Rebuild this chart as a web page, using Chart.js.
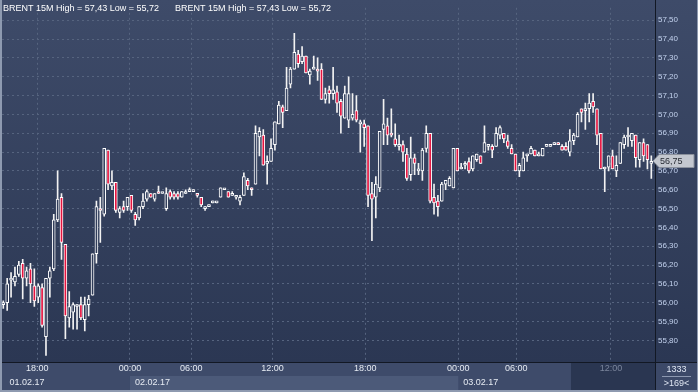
<!DOCTYPE html>
<html>
<head>
<meta charset="utf-8">
<script src="https://cdn.jsdelivr.net/npm/chart.js@4.4.1/dist/chart.umd.min.js"></script>
<style>
html, body { margin: 0; padding: 0; background: #2f3c58; }
#graph { display: block; }
</style>
</head>
<body>
<canvas id="graph" width="698" height="392"></canvas>
<script>
let ctx = document.getElementById("graph").getContext('2d');

const symbol = 'BRENT';
const period = '15M';

// one entry per 15 minute candle
const opens = [
  55.99,56.00,56.12,56.11,56.15,56.21,56.13,56.18,56.09,56.03,
  56.08,55.82,56.13,56.18,56.44,56.56,56.31,55.92,55.95,55.98,
  55.99,55.91,55.99,56.04,56.26,56.50,56.47,56.81,56.62,56.64,
  56.48,56.51,56.51,56.57,56.47,56.45,56.51,56.55,56.58,56.55,
  56.59,56.58,56.50,56.59,56.58,56.58,56.56,56.58,56.59,56.59,
  56.58,56.56,56.50,56.51,56.53,56.53,56.56,56.60,56.59,56.57,
  56.56,56.54,56.57,56.65,56.61,56.63,56.88,56.89,56.74,56.75,
  56.84,56.95,57.04,57.02,57.16,57.24,57.32,57.28,57.31,57.21,
  57.24,57.24,57.24,57.08,57.13,57.11,57.12,57.07,56.98,56.97,
  56.98,57.02,56.95,56.95,56.94,56.58,56.56,56.61,56.92,56.94,
  56.90,56.87,56.83,56.84,56.79,56.68,56.77,56.70,56.70,56.82,
  56.90,56.56,56.54,56.54,56.63,56.62,56.61,56.82,56.71,56.73,
  56.75,56.71,56.76,56.78,56.80,56.83,56.83,56.83,56.89,56.90,
  56.86,56.82,56.79,56.70,56.70,56.78,56.79,56.81,56.78,56.78,
  56.83,56.83,56.84,56.85,56.83,56.83,56.80,56.86,56.88,57.03,
  57.02,57.03,57.07,57.03,56.90,56.71,56.72,56.78,56.70,56.74,
  56.84,56.88,56.86,56.89,56.76,56.85,56.84,56.74
];
const highs = [
  56.01,56.13,56.16,56.19,56.22,56.23,56.19,56.21,56.18,56.10,
  56.10,56.13,56.19,56.47,56.70,56.58,56.31,56.06,56.00,55.99,
  56.03,56.03,56.04,56.26,56.54,56.56,56.82,56.81,56.70,56.64,
  56.51,56.54,56.56,56.57,56.48,56.51,56.58,56.60,56.58,56.58,
  56.62,56.58,56.61,56.60,56.59,56.59,56.59,56.60,56.61,56.60,
  56.58,56.56,56.51,56.52,56.54,56.53,56.61,56.60,56.59,56.59,
  56.56,56.57,56.69,56.66,56.61,56.94,56.93,56.92,56.78,56.87,
  56.96,57.07,57.05,57.25,57.25,57.43,57.34,57.36,57.31,57.24,
  57.31,57.30,57.27,57.14,57.15,57.25,57.15,57.08,57.15,57.20,
  57.11,57.10,56.97,56.97,56.94,56.64,56.67,56.91,57.08,56.98,
  57.03,56.95,56.89,56.86,56.82,56.88,56.79,56.74,56.82,56.94,
  56.90,56.63,56.57,56.64,56.65,56.67,56.82,56.82,56.74,56.75,
  56.77,56.78,56.79,56.78,56.94,56.84,56.84,56.93,56.94,56.90,
  56.89,56.84,56.79,56.74,56.80,56.79,56.83,56.81,56.80,56.82,
  56.83,56.84,56.85,56.85,56.84,56.85,56.92,56.90,57.01,57.03,
  57.06,57.11,57.11,57.03,56.90,56.72,56.78,56.81,56.78,56.85,
  56.89,56.93,56.90,56.89,56.85,56.87,56.84,56.78
];
const lows = [
  55.97,55.96,56.03,56.09,56.14,56.02,56.09,56.00,55.98,56.00,
  55.87,55.72,56.03,56.17,56.43,56.23,55.81,55.87,55.86,55.86,
  55.91,55.85,55.93,56.04,56.21,56.32,56.46,56.60,56.60,56.48,
  56.45,56.48,56.49,56.48,56.41,56.44,56.50,56.54,56.56,56.54,
  56.58,56.58,56.49,56.55,56.55,56.55,56.56,56.58,56.59,56.59,
  56.56,56.51,56.49,56.51,56.53,56.53,56.56,56.60,56.56,56.57,
  56.55,56.52,56.57,56.60,56.57,56.63,56.78,56.73,56.63,56.75,
  56.81,56.95,56.93,57.02,57.14,57.24,57.25,57.27,57.22,57.16,
  57.24,57.18,57.08,57.06,57.06,57.08,57.01,56.90,56.98,56.93,
  56.97,56.96,56.80,56.83,56.51,56.33,56.45,56.59,56.84,56.84,
  56.88,56.83,56.81,56.75,56.65,56.65,56.68,56.68,56.65,56.80,
  56.53,56.47,56.46,56.54,56.60,56.62,56.61,56.70,56.71,56.71,
  56.69,56.70,56.75,56.74,56.80,56.81,56.77,56.83,56.87,56.85,
  56.82,56.79,56.70,56.67,56.70,56.75,56.79,56.78,56.78,56.78,
  56.83,56.83,56.84,56.84,56.81,56.81,56.78,56.84,56.88,56.96,
  56.92,56.96,57.01,56.84,56.71,56.59,56.70,56.71,56.67,56.74,
  56.82,56.83,56.83,56.72,56.72,56.75,56.71,56.66
];
const closes = [
  55.99,56.10,56.13,56.14,56.20,56.13,56.17,56.10,56.01,56.09,
  55.88,56.13,56.17,56.44,56.55,56.32,55.93,55.98,55.99,55.98,
  55.92,55.99,56.02,56.26,56.51,56.49,56.82,56.63,56.64,56.49,
  56.50,56.49,56.56,56.49,56.44,56.51,56.54,56.59,56.56,56.58,
  56.58,56.58,56.58,56.56,56.56,56.56,56.59,56.58,56.60,56.60,
  56.57,56.52,56.51,56.52,56.54,56.53,56.61,56.60,56.56,56.58,
  56.56,56.56,56.67,56.62,56.60,56.90,56.91,56.73,56.75,56.82,
  56.96,57.05,57.01,57.14,57.24,57.33,57.27,57.31,57.22,57.23,
  57.24,57.23,57.08,57.11,57.11,57.13,57.06,56.99,57.11,57.11,
  57.00,56.97,56.96,56.93,56.57,56.55,56.63,56.91,56.95,56.89,
  56.89,56.84,56.84,56.80,56.66,56.77,56.74,56.71,56.81,56.90,
  56.54,56.53,56.51,56.63,56.65,56.66,56.82,56.70,56.72,56.74,
  56.70,56.78,56.79,56.74,56.85,56.84,56.81,56.90,56.93,56.87,
  56.83,56.79,56.70,56.73,56.77,56.78,56.82,56.78,56.78,56.82,
  56.83,56.84,56.84,56.84,56.81,56.81,56.86,56.89,57.00,57.01,
  57.03,57.06,57.04,56.89,56.71,56.71,56.78,56.71,56.73,56.85,
  56.88,56.89,56.90,56.77,56.85,56.78,56.76,56.75
];

const priceTicks = [55.8,55.9,56.0,56.1,56.2,56.3,56.4,56.5,56.6,56.7,56.8,56.9,57.0,57.1,57.2,57.3,57.4,57.5];

// time axis: labels and where they sit, in candle index units
const timeLabels = ['18:00','00:00','06:00','12:00','18:00','00:00','06:00','12:00'];
const timePos = [8.75, 32.65, 48.45, 69.35, 93.3, 117.25, 132.2, 156.6];
const dateLabels = ['01.02.17','02.02.17','03.02.17'];
const datePos = [0.3, 32.65, 117.25];
const shadeFrom = 146.3;

const fmt = (v) => v.toFixed(2).replace('.', ',');

function plotFill(chart) {
    const a = chart.chartArea;
    if (!a) return '#34415e';
    const g = chart.ctx.createLinearGradient(0, 0, 0, a.bottom);
    g.addColorStop(0, '#3e4b69');
    g.addColorStop(1, '#2b3753');
    return g;
}

const frame = {
    id: 'frame',
    beforeDraw(chart) {
        const c = chart.ctx, a = chart.chartArea, W = chart.width, H = chart.height;
        const x = chart.scales.x;
        c.save();
        c.fillStyle = plotFill(chart);
        c.fillRect(0, 0, W, a.bottom);
        c.fillStyle = '#3e4b6a';
        c.fillRect(0, a.bottom, W, H - a.bottom);
        const d0 = x.getPixelForValue(datePos[1]), d1 = x.getPixelForValue(datePos[2]);
        c.fillStyle = '#4c5a79';
        c.fillRect(d0, a.bottom + 14, d1 - d0, 14);
        const s0 = x.getPixelForValue(shadeFrom);
        c.fillStyle = '#2a3651';
        c.fillRect(s0, a.bottom + 1, a.right - s0, 27);
        c.restore();
    },
    afterDraw(chart) {
        const c = chart.ctx, a = chart.chartArea, W = chart.width, H = chart.height;
        const x = chart.scales.x, y = chart.scales.y;
        c.save();

        // header
        const head = symbol + ' ' + period + ' High = ' + fmt(Math.max(...highs)) + ' Low = ' + fmt(Math.min(...lows));
        c.font = '9px "Liberation Sans", Arial, sans-serif';
        c.fillStyle = '#ffffff';
        c.textBaseline = 'middle';
        c.textAlign = 'left';
        c.fillText(head, 3, 9);
        c.fillText(head, 175, 9);

        // time axis
        const s0 = x.getPixelForValue(shadeFrom);
        c.textAlign = 'center';
        timeLabels.forEach((t, i) => {
            const px = x.getPixelForValue(timePos[i]);
            c.fillStyle = px > s0 ? '#7b869d' : '#e6ebf3';
            c.fillText(t, px, a.bottom + 7);
        });
        c.textAlign = 'left';
        c.fillStyle = '#e6ebf3';
        dateLabels.forEach((t, i) => {
            c.fillText(t, x.getPixelForValue(datePos[i]) + 5, a.bottom + 21);
        });

        // separators
        c.strokeStyle = '#121824';
        c.lineWidth = 1;
        c.beginPath();
        c.moveTo(0, a.bottom + 0.5); c.lineTo(W, a.bottom + 0.5);
        c.moveTo(a.right + 0.5, 0); c.lineTo(a.right + 0.5, H);
        c.stroke();

        // bottom right cell
        c.fillStyle = '#3c4968';
        c.fillRect(a.right + 1, a.bottom + 1, W - a.right - 1, H - a.bottom - 1);
        c.fillStyle = '#dfe6f2';
        c.textAlign = 'center';
        const cx = (a.right + W) / 2;
        c.fillText('1333', cx, a.bottom + 8);
        c.fillText('>169<', cx, a.bottom + 22);
        c.strokeStyle = '#8c98b0';
        c.beginPath();
        c.moveTo(a.right + 7, a.bottom + 14.5); c.lineTo(W - 7, a.bottom + 14.5);
        c.stroke();

        // last price marker
        const last = closes[closes.length - 1];
        const py = Math.round(y.getPixelForValue(last));
        c.fillStyle = '#c3c7cf';
        c.strokeStyle = '#8a909c';
        c.beginPath();
        c.moveTo(a.right - 2, py);
        c.lineTo(a.right + 4, py - 6.5);
        c.lineTo(W - 4, py - 6.5);
        c.lineTo(W - 4, py + 6.5);
        c.lineTo(a.right + 4, py + 6.5);
        c.closePath();
        c.fill();
        c.stroke();
        c.fillStyle = '#262a33';
        c.textAlign = 'left';
        c.fillText(fmt(last), a.right + 5, py + 0.5);

        // outer frame
        c.fillStyle = '#8e9ab0';
        c.fillRect(0, 0, 2, H);
        c.fillRect(0, H - 2, W, 2);
        c.fillRect(W - 1, 0, 1, H);
        c.restore();
    }
};

const wickData = opens.map((o, i) => ({x: i, y: [lows[i], highs[i]]}));
const bodyData = opens.map((o, i) => ({x: i, y: [Math.min(o, closes[i]), Math.max(o, closes[i])]}));

new Chart(ctx, {
    type: 'bar',
    data: {
        datasets: [{
            label: 'wick',
            data: wickData,
            barThickness: 1,
            backgroundColor: '#f2f2f2',
            borderWidth: 0,
            grouped: false,
            order: 2
        }, {
            label: 'body',
            data: bodyData,
            barThickness: 3,
            minBarLength: 2,
            borderWidth: 1,
            borderSkipped: false,
            borderColor: '#ffffff',
            backgroundColor: (c) => closes[c.dataIndex] < opens[c.dataIndex] ? '#e5133f' : plotFill(c.chart),
            grouped: false,
            order: 1
        }]
    },
    options: {
        responsive: false,
        devicePixelRatio: 1,
        animation: false,
        layout: { padding: { left: 2, top: 0, right: 0, bottom: 30 } },
        plugins: { legend: { display: false }, tooltip: { enabled: false } },
        scales: {
            x: {
                type: 'linear',
                min: -0.335,
                max: 167.95,
                offset: false,
                afterBuildTicks: (s) => { s.ticks = timePos.map(v => ({value: v})); },
                afterFit: (s) => { s.height = 0; },
                ticks: { display: false },
                grid: { color: '#56647f', drawTicks: false, offset: false },
                border: { display: false, dash: [2, 3] }
            },
            y: {
                position: 'right',
                min: 55.6855,
                max: 57.566,
                afterBuildTicks: (s) => { s.ticks = priceTicks.map(v => ({value: v})); },
                afterFit: (s) => { s.width = 43; },
                ticks: {
                    autoSkip: false,
                    padding: 3,
                    color: '#c3d2ee',
                    font: { family: '"Liberation Sans Narrow", "Liberation Sans", Arial, sans-serif', size: 8 },
                    callback: (v) => fmt(v)
                },
                grid: { color: '#56647f', drawTicks: false },
                border: { display: false, dash: [2, 3] }
            }
        }
    },
    plugins: [frame]
});
</script>
</body>
</html>
